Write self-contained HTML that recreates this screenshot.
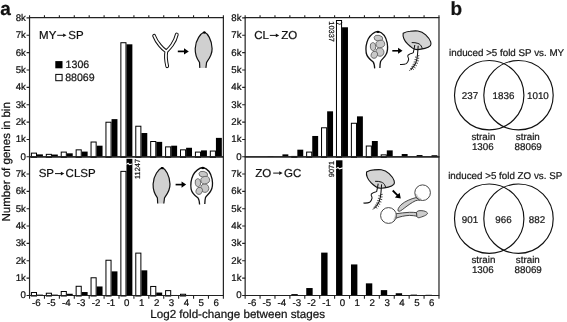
<!DOCTYPE html>
<html><head><meta charset="utf-8">
<style>
html,body{margin:0;padding:0;background:#fff;}
body{width:567px;height:322px;overflow:hidden;}
svg{display:block;filter:grayscale(1);}
text{font-family:"Liberation Sans",sans-serif;text-rendering:geometricPrecision;stroke:#111;stroke-width:0.22px;}
</style></head>
<body>
<svg width="567" height="322" viewBox="0 0 567 322">
<rect width="567" height="322" fill="#fff"/>
<rect x="37.01" y="154.37" width="5.90" height="2.43" fill="#000"/>
<rect x="31.41" y="153.13" width="5.10" height="4.17" fill="#fff" stroke="#000" stroke-width="1"/>
<rect x="51.92" y="154.54" width="5.90" height="2.26" fill="#000"/>
<rect x="46.32" y="154.35" width="5.10" height="2.95" fill="#fff" stroke="#000" stroke-width="1"/>
<rect x="66.83" y="153.33" width="5.90" height="3.47" fill="#000"/>
<rect x="61.23" y="152.09" width="5.10" height="5.21" fill="#fff" stroke="#000" stroke-width="1"/>
<rect x="81.73" y="151.59" width="5.90" height="5.21" fill="#000"/>
<rect x="76.14" y="149.84" width="5.10" height="7.46" fill="#fff" stroke="#000" stroke-width="1"/>
<rect x="96.64" y="145.69" width="5.90" height="11.11" fill="#000"/>
<rect x="91.05" y="142.02" width="5.10" height="15.28" fill="#fff" stroke="#000" stroke-width="1"/>
<rect x="111.55" y="119.13" width="5.90" height="37.67" fill="#000"/>
<rect x="105.95" y="122.23" width="5.10" height="35.07" fill="#fff" stroke="#000" stroke-width="1"/>
<rect x="126.47" y="44.31" width="5.90" height="112.49" fill="#000"/>
<rect x="120.87" y="42.72" width="5.10" height="114.58" fill="#fff" stroke="#000" stroke-width="1"/>
<rect x="141.38" y="133.02" width="5.90" height="23.78" fill="#000"/>
<rect x="135.78" y="126.23" width="5.10" height="31.07" fill="#fff" stroke="#000" stroke-width="1"/>
<rect x="156.28" y="141.87" width="5.90" height="14.93" fill="#000"/>
<rect x="150.69" y="141.50" width="5.10" height="15.80" fill="#fff" stroke="#000" stroke-width="1"/>
<rect x="171.20" y="145.69" width="5.90" height="11.11" fill="#000"/>
<rect x="165.60" y="146.88" width="5.10" height="10.42" fill="#fff" stroke="#000" stroke-width="1"/>
<rect x="186.11" y="147.77" width="5.90" height="9.03" fill="#000"/>
<rect x="180.51" y="149.84" width="5.10" height="7.46" fill="#fff" stroke="#000" stroke-width="1"/>
<rect x="201.02" y="150.38" width="5.90" height="6.42" fill="#000"/>
<rect x="195.42" y="152.09" width="5.10" height="5.21" fill="#fff" stroke="#000" stroke-width="1"/>
<rect x="215.93" y="137.88" width="5.90" height="18.92" fill="#000"/>
<rect x="210.33" y="151.05" width="5.10" height="6.25" fill="#fff" stroke="#000" stroke-width="1"/>
<path d="M29.55 17.7H223.38V156.8H29.55Z" fill="none" stroke="#222" stroke-width="1.2"/>
<rect x="267.51" y="156.28" width="5.90" height="0.52" fill="#000"/>
<rect x="282.43" y="154.37" width="5.90" height="2.43" fill="#000"/>
<rect x="297.34" y="149.68" width="5.90" height="7.12" fill="#000"/>
<rect x="291.74" y="156.43" width="5.10" height="0.87" fill="#fff" stroke="#000" stroke-width="1"/>
<rect x="312.25" y="135.97" width="5.90" height="20.83" fill="#000"/>
<rect x="306.64" y="152.09" width="5.10" height="5.21" fill="#fff" stroke="#000" stroke-width="1"/>
<rect x="327.15" y="111.32" width="5.90" height="45.48" fill="#000"/>
<rect x="321.55" y="127.79" width="5.10" height="29.51" fill="#fff" stroke="#000" stroke-width="1"/>
<rect x="342.06" y="27.29" width="5.90" height="129.51" fill="#000"/>
<rect x="336.46" y="20.50" width="5.10" height="136.80" fill="#fff" stroke="#000" stroke-width="1"/>
<rect x="356.98" y="116.35" width="5.90" height="40.45" fill="#000"/>
<rect x="351.38" y="123.27" width="5.10" height="34.03" fill="#fff" stroke="#000" stroke-width="1"/>
<rect x="371.88" y="141.00" width="5.90" height="15.80" fill="#000"/>
<rect x="366.28" y="146.02" width="5.10" height="11.28" fill="#fff" stroke="#000" stroke-width="1"/>
<rect x="386.80" y="150.38" width="5.90" height="6.42" fill="#000"/>
<rect x="381.19" y="154.87" width="5.10" height="2.43" fill="#fff" stroke="#000" stroke-width="1"/>
<rect x="401.71" y="154.02" width="5.90" height="2.78" fill="#000"/>
<rect x="416.62" y="155.06" width="5.90" height="1.74" fill="#000"/>
<rect x="431.52" y="155.24" width="5.90" height="1.56" fill="#000"/>
<path d="M245.15 17.7H438.98V156.8H245.15Z" fill="none" stroke="#222" stroke-width="1.2"/>
<rect x="37.01" y="294.63" width="5.90" height="0.87" fill="#000"/>
<rect x="31.41" y="292.53" width="5.10" height="3.47" fill="#fff" stroke="#000" stroke-width="1"/>
<rect x="51.92" y="294.63" width="5.90" height="0.87" fill="#000"/>
<rect x="46.32" y="293.22" width="5.10" height="2.78" fill="#fff" stroke="#000" stroke-width="1"/>
<rect x="66.83" y="293.76" width="5.90" height="1.74" fill="#000"/>
<rect x="61.23" y="291.49" width="5.10" height="4.51" fill="#fff" stroke="#000" stroke-width="1"/>
<rect x="81.73" y="292.03" width="5.90" height="3.47" fill="#000"/>
<rect x="76.14" y="286.28" width="5.10" height="9.72" fill="#fff" stroke="#000" stroke-width="1"/>
<rect x="96.64" y="286.47" width="5.90" height="9.03" fill="#000"/>
<rect x="91.05" y="277.77" width="5.10" height="18.23" fill="#fff" stroke="#000" stroke-width="1"/>
<rect x="111.55" y="271.37" width="5.90" height="24.13" fill="#000"/>
<rect x="105.95" y="260.24" width="5.10" height="35.76" fill="#fff" stroke="#000" stroke-width="1"/>
<rect x="126.47" y="158.80" width="5.90" height="136.70" fill="#000"/>
<rect x="120.87" y="171.36" width="5.10" height="124.64" fill="#fff" stroke="#000" stroke-width="1"/>
<rect x="141.38" y="270.33" width="5.90" height="25.17" fill="#000"/>
<rect x="135.78" y="253.12" width="5.10" height="42.88" fill="#fff" stroke="#000" stroke-width="1"/>
<rect x="156.28" y="292.55" width="5.90" height="2.95" fill="#000"/>
<rect x="150.69" y="286.45" width="5.10" height="9.55" fill="#fff" stroke="#000" stroke-width="1"/>
<rect x="171.20" y="294.98" width="5.90" height="0.52" fill="#000"/>
<rect x="165.60" y="290.62" width="5.10" height="5.38" fill="#fff" stroke="#000" stroke-width="1"/>
<rect x="186.11" y="294.98" width="5.90" height="0.52" fill="#000"/>
<rect x="180.51" y="294.26" width="5.10" height="1.74" fill="#fff" stroke="#000" stroke-width="1"/>
<rect x="201.02" y="295.15" width="5.90" height="0.35" fill="#000"/>
<rect x="215.93" y="295.15" width="5.90" height="0.35" fill="#000"/>
<path d="M29.55 156.8H223.38V295.5H29.55Z" fill="none" stroke="#222" stroke-width="1.2"/>
<rect x="246.61" y="295.15" width="6.40" height="0.35" fill="#000"/>
<rect x="261.51" y="295.15" width="6.40" height="0.35" fill="#000"/>
<rect x="276.43" y="295.15" width="6.40" height="0.35" fill="#000"/>
<rect x="291.34" y="294.11" width="6.40" height="1.39" fill="#000"/>
<rect x="306.25" y="288.04" width="6.40" height="7.46" fill="#000"/>
<rect x="321.15" y="252.62" width="6.40" height="42.88" fill="#000"/>
<rect x="336.06" y="160.30" width="6.40" height="135.20" fill="#000"/>
<rect x="350.98" y="264.43" width="6.40" height="31.07" fill="#000"/>
<rect x="365.88" y="283.35" width="6.40" height="12.15" fill="#000"/>
<rect x="380.80" y="290.12" width="6.40" height="5.38" fill="#000"/>
<rect x="395.71" y="293.24" width="6.40" height="2.26" fill="#000"/>
<rect x="410.62" y="294.63" width="6.40" height="0.87" fill="#000"/>
<rect x="425.52" y="294.81" width="6.40" height="0.69" fill="#000"/>
<path d="M245.15 156.8H438.98V295.5H245.15Z" fill="none" stroke="#222" stroke-width="1.2"/>
<path d="M44.46 17.7v-2.5 M59.37 17.7v-2.5 M74.28 17.7v-2.5 M89.19 17.7v-2.5 M104.10 17.7v-2.5 M119.01 17.7v-2.5 M133.92 17.7v-2.5 M148.83 17.7v-2.5 M163.74 17.7v-2.5 M178.65 17.7v-2.5 M193.56 17.7v-2.5 M208.47 17.7v-2.5 M223.38 17.7v-2.5 M29.55 17.7v-2.5 M29.55 156.80h-3 M29.55 139.44h-3 M29.55 122.08h-3 M29.55 104.72h-3 M29.55 87.36h-3 M29.55 70.00h-3 M29.55 52.64h-3 M29.55 35.28h-3 M29.55 17.92h-3 M260.06 17.7v-2.5 M274.97 17.7v-2.5 M289.88 17.7v-2.5 M304.79 17.7v-2.5 M319.70 17.7v-2.5 M334.61 17.7v-2.5 M349.52 17.7v-2.5 M364.43 17.7v-2.5 M379.34 17.7v-2.5 M394.25 17.7v-2.5 M409.16 17.7v-2.5 M424.07 17.7v-2.5 M438.98 17.7v-2.5 M245.15 17.7v-2.5 M245.15 156.80h-3 M245.15 139.44h-3 M245.15 122.08h-3 M245.15 104.72h-3 M245.15 87.36h-3 M245.15 70.00h-3 M245.15 52.64h-3 M245.15 35.28h-3 M245.15 17.92h-3 M44.46 295.5v3.2 M59.37 295.5v3.2 M74.28 295.5v3.2 M89.19 295.5v3.2 M104.10 295.5v3.2 M119.01 295.5v3.2 M133.92 295.5v3.2 M148.83 295.5v3.2 M163.74 295.5v3.2 M178.65 295.5v3.2 M193.56 295.5v3.2 M208.47 295.5v3.2 M223.38 295.5v3.2 M29.55 295.5v3.2 M29.55 295.50h-3 M29.55 278.14h-3 M29.55 260.78h-3 M29.55 243.42h-3 M29.55 226.06h-3 M29.55 208.70h-3 M29.55 191.34h-3 M29.55 173.98h-3 M260.06 295.5v3.2 M274.97 295.5v3.2 M289.88 295.5v3.2 M304.79 295.5v3.2 M319.70 295.5v3.2 M334.61 295.5v3.2 M349.52 295.5v3.2 M364.43 295.5v3.2 M379.34 295.5v3.2 M394.25 295.5v3.2 M409.16 295.5v3.2 M424.07 295.5v3.2 M438.98 295.5v3.2 M245.15 295.5v3.2 M245.15 295.50h-3 M245.15 278.14h-3 M245.15 260.78h-3 M245.15 243.42h-3 M245.15 226.06h-3 M245.15 208.70h-3 M245.15 191.34h-3 M245.15 173.98h-3" stroke="#222" stroke-width="1.1" fill="none"/>
<g style="font-family:'Liberation Sans',sans-serif;font-size:9.7px" fill="#111"><text x="25.9" y="159.70" text-anchor="end">0</text><text x="25.9" y="142.34" text-anchor="end">1k</text><text x="25.9" y="124.98" text-anchor="end">2k</text><text x="25.9" y="107.62" text-anchor="end">3k</text><text x="25.9" y="90.26" text-anchor="end">4k</text><text x="25.9" y="72.90" text-anchor="end">5k</text><text x="25.9" y="55.54" text-anchor="end">6k</text><text x="25.9" y="38.18" text-anchor="end">7k</text><text x="25.9" y="20.82" text-anchor="end">8k</text><text x="241.6" y="159.70" text-anchor="end">0</text><text x="241.6" y="142.34" text-anchor="end">1k</text><text x="241.6" y="124.98" text-anchor="end">2k</text><text x="241.6" y="107.62" text-anchor="end">3k</text><text x="241.6" y="90.26" text-anchor="end">4k</text><text x="241.6" y="72.90" text-anchor="end">5k</text><text x="241.6" y="55.54" text-anchor="end">6k</text><text x="241.6" y="38.18" text-anchor="end">7k</text><text x="241.6" y="20.82" text-anchor="end">8k</text><text x="25.9" y="298.40" text-anchor="end">0</text><text x="25.9" y="281.04" text-anchor="end">1k</text><text x="25.9" y="263.68" text-anchor="end">2k</text><text x="25.9" y="246.32" text-anchor="end">3k</text><text x="25.9" y="228.96" text-anchor="end">4k</text><text x="25.9" y="211.60" text-anchor="end">5k</text><text x="25.9" y="194.24" text-anchor="end">6k</text><text x="25.9" y="176.88" text-anchor="end">7k</text><text x="241.6" y="298.40" text-anchor="end">0</text><text x="241.6" y="281.04" text-anchor="end">1k</text><text x="241.6" y="263.68" text-anchor="end">2k</text><text x="241.6" y="246.32" text-anchor="end">3k</text><text x="241.6" y="228.96" text-anchor="end">4k</text><text x="241.6" y="211.60" text-anchor="end">5k</text><text x="241.6" y="194.24" text-anchor="end">6k</text><text x="241.6" y="176.88" text-anchor="end">7k</text><text x="36.41" y="305.6" text-anchor="middle">-6</text><text x="51.32" y="305.6" text-anchor="middle">-5</text><text x="66.23" y="305.6" text-anchor="middle">-4</text><text x="81.14" y="305.6" text-anchor="middle">-3</text><text x="96.05" y="305.6" text-anchor="middle">-2</text><text x="110.95" y="305.6" text-anchor="middle">-1</text><text x="126.77" y="305.6" text-anchor="middle">0</text><text x="141.68" y="305.6" text-anchor="middle">1</text><text x="156.59" y="305.6" text-anchor="middle">2</text><text x="171.50" y="305.6" text-anchor="middle">3</text><text x="186.41" y="305.6" text-anchor="middle">4</text><text x="201.32" y="305.6" text-anchor="middle">5</text><text x="216.23" y="305.6" text-anchor="middle">6</text><text x="252.01" y="305.6" text-anchor="middle">-6</text><text x="266.91" y="305.6" text-anchor="middle">-5</text><text x="281.82" y="305.6" text-anchor="middle">-4</text><text x="296.74" y="305.6" text-anchor="middle">-3</text><text x="311.64" y="305.6" text-anchor="middle">-2</text><text x="326.55" y="305.6" text-anchor="middle">-1</text><text x="342.37" y="305.6" text-anchor="middle">0</text><text x="357.28" y="305.6" text-anchor="middle">1</text><text x="372.19" y="305.6" text-anchor="middle">2</text><text x="387.10" y="305.6" text-anchor="middle">3</text><text x="402.01" y="305.6" text-anchor="middle">4</text><text x="416.92" y="305.6" text-anchor="middle">5</text><text x="431.82" y="305.6" text-anchor="middle">6</text></g>
<path d="M336.8 23.1C338 23.2 338.6 24.3 339.6 24.3C340.6 24.3 341.3 23 342.2 22.7" fill="none" stroke="#000" stroke-width="0.9"/>
<path d="M126.3 164.4L128.1 163.3L129.5 164.7L131.9 163.9" fill="none" stroke="#fff" stroke-width="1.1"/>
<path d="M336.2 168.6L338 167.5L339.5 168.9L342.8 167.9" fill="none" stroke="#fff" stroke-width="1.1"/>
<g font-size="7.4" fill="#222">
<text transform="translate(329.2 31.6) rotate(90)" text-anchor="middle">10337</text>
<text transform="translate(139.6 169.0) rotate(-90)" text-anchor="middle">11247</text>
<text transform="translate(333.9 169.0) rotate(-90)" text-anchor="middle">9071</text>
</g>
<!-- illustrations -->
<defs>
<g id="spore">
<path d="M204.3 32.0C207.5 33.3 211.8 39.5 212.1 48.5C212.3 55 209 59 206.6 62.3L205.9 67.9H199.8L199.5 62.3C197 59 195 54.5 195.2 48.5C195.5 39.5 201 33.3 204.3 32.0Z" fill="#d0d0d0"/>
<path d="M205.9 67.9L206.6 62.3C209 59 212.3 55 212.1 48.5C211.8 39.5 207.5 33.3 204.3 32.0C201 33.3 195.5 39.5 195.2 48.5C195 54.5 197 59 199.5 62.3L199.8 67.9" fill="none" stroke="#111" stroke-width="1.2"/>
<ellipse cx="204.3" cy="32.6" rx="1.6" ry="1.1" fill="#000"/>
</g>
<g id="sporangium">
<path d="M378 31.4C382.5 32.5 386 37 387.2 43C388 48 387.5 52 386 54.5C384.5 57.5 381.5 59.5 380.6 61.5C380 63.5 379.9 66 379.9 68L374.7 68.4C374.5 66 374.3 63.5 373.2 62C370.5 60 367 57 366.2 53C365.5 48 366.3 43 368.2 39C370.5 35 374 32 378 31.4Z" fill="#fff"/>
<path d="M379.9 68C379.9 66 380 63.5 380.6 61.5C381.5 59.5 384.5 57.5 386 54.5C387.5 52 388 48 387.2 43C386 37 382.5 32.5 378 31.4C374 32 370.5 35 368.2 39C366.3 43 365.5 48 366.2 53C367 57 370.5 60 373.2 62C374.3 63.5 374.5 66 374.7 68.4" fill="none" stroke="#111" stroke-width="1.3"/>
<ellipse cx="378" cy="32.0" rx="1.6" ry="1.1" fill="#000"/>
<g fill="#c8c8c8" stroke="#555" stroke-width="0.75">
<ellipse cx="378.4" cy="38.2" rx="4.4" ry="2.9" transform="rotate(12 378.4 38.2)"/>
<ellipse cx="379.9" cy="52" rx="4.0" ry="4.3" transform="rotate(-20 379.9 52)"/>
<ellipse cx="374.3" cy="54.8" rx="3.1" ry="3.6" transform="rotate(20 374.3 54.8)"/>
<ellipse cx="373" cy="46.6" rx="2.7" ry="4.0" transform="rotate(-8 373 46.6)"/>
<ellipse cx="380.3" cy="44" rx="4.4" ry="3.7" transform="rotate(-15 380.3 44)"/>
</g>
</g>
<g id="cyst">
<path d="M402.95 32.3C405.5 30.8 408 30.3 409.95 30.2C413 29.9 415.5 29.8 417.7 30.0C420.5 30.4 423.5 32 425.5 33.85C428 36.2 429.8 38.5 430.5 40.85C431 42.5 430.9 43.8 430.2 44.7C429 46 427 46.9 424.7 47.4C422.5 47.9 420 48.4 417.7 48.6C415.5 48.7 413.8 48.2 412.3 47.1C410.5 45.8 409 44.6 407.6 43.2C405.7 41.3 404.4 39.5 403.7 37.7C403 36 402.6 34 402.95 32.3Z" fill="#d4d4d4" stroke="#111" stroke-width="1.1"/>
<path d="M411.5 41.6C413.5 41.4 416 41.8 417.7 42.4C419.3 43 420.3 43.8 420.8 44.7C421.4 45.7 421.9 46.8 422.1 47.9" fill="none" stroke="#111" stroke-width="1"/>
<path d="M414.6 44.0C414.1 47 413.6 49.5 413.1 51.7C412 52.5 410.2 52.6 409.2 53.3C407.8 54 407.3 54.8 407.6 55.6C408 56.5 408.7 57.5 408.4 58.7C408 60.5 407.2 61.8 406.1 62.6C404.5 63.5 402 63.5 399.8 63.4" fill="none" stroke="#111" stroke-width="1.05"/>
<path d="M418 44.7C417.8 47 417.6 50 417.4 52.5C417.2 56 416.5 59.5 415.5 62C414.3 64.8 412.5 66.8 410.7 68.8" fill="none" stroke="#111" stroke-width="1.05"/>
<path d="M417.3 55l1.8-0.4M417.1 57.3l1.9-0.1M416.7 59.6l1.9 0.3M416 61.8l1.8 0.6M415 64l1.6 0.8M413.8 65.9l1.5 1M412.4 67.6l1.3 1.1M416.4 56.3l-1.6-0.3M416 58.7l-1.7-0.1M415.3 61l-1.8 0M414.3 63.2l-1.8 0.2M413 65.2l-1.7 0.3M411.6 67.1l-1.6 0.5M410.3 68.9l-1.3 0.7" stroke="#111" stroke-width="0.75" fill="none"/>
</g>
<g id="arrow">
<path d="M0 0H7" stroke="#000" stroke-width="1.7" fill="none"/><path d="M11 0L6.2 -3.2V3.2Z" fill="#000"/>
</g>
</defs>
<!-- TL -->
<path d="M154.1 35.8C155.5 39.5 157.5 42.5 160 45.5C162 48 164 49.8 166.4 51.4M176.8 34.5C176 38 174.5 41.5 172 45C170 47.8 168 49.8 166.4 51.4C165.6 55 165.8 60 167.2 66.2" fill="none" stroke="#111" stroke-width="3.8" stroke-linecap="round" stroke-linejoin="round"/>
<path d="M154.1 35.8C155.5 39.5 157.5 42.5 160 45.5C162 48 164 49.8 166.4 51.4M176.8 34.5C176 38 174.5 41.5 172 45C170 47.8 168 49.8 166.4 51.4C165.6 55 165.8 60 167.2 66.2" fill="none" stroke="#fff" stroke-width="1.8" stroke-linecap="round" stroke-linejoin="round"/>
<use href="#arrow" transform="translate(177.8 51.4)"/>
<use href="#spore"/>
<!-- TR -->
<use href="#sporangium"/>
<use href="#arrow" transform="translate(392.3 50.8) scale(0.93)"/>
<use href="#cyst" transform="translate(0.2 1.0)"/>
<!-- BL -->
<use href="#spore" transform="translate(-42.1 135.6)"/>
<use href="#arrow" transform="translate(175.6 184.6) scale(0.96)"/>
<use href="#sporangium" transform="translate(-175.1 136.1)"/>
<!-- BR -->
<use href="#cyst" transform="translate(-36.4 139.7)"/>
<use href="#arrow" transform="translate(392.7 190.5) rotate(45) scale(1.04)"/>
<g stroke="#333" stroke-width="0.9">
<path d="M416 197.6C411 198.8 405 201.2 401 204.8C398.6 207.2 397.4 209.8 398.2 211C399.2 212 401.5 210.4 404.2 208.2C408 205.2 411.8 202.6 415.2 200.9C416.8 200.2 418.5 200 420 200Z" fill="#cdcdcd"/>
<circle cx="422.6" cy="192.7" r="7.8" fill="#fff" stroke="none"/>
<path d="M414.9 194.6A7.8 7.8 0 0 0 421.6 200.4L421.2 198.6Q417.6 197 416.9 193.9Z" fill="#cdcdcd" stroke="none"/>
<circle cx="422.6" cy="192.7" r="7.8" fill="none"/>
<path d="M395.5 213.8C400 213.2 405 212.5 409.4 212.3C412 212.2 414.5 212.4 416.8 212.7L417 216.2C414.5 215.8 412 215.4 409.4 215.4C405 215.6 400 216.6 395.6 218.3Z" fill="#cdcdcd"/>
<path d="M416.5 212.5C417 210.6 420 210.3 423.7 210.9C426 211.4 427.6 212.6 427.5 213.4C427.3 214.4 425.5 215.4 424.6 215.8C422.5 216.6 420.5 217.4 419.2 217.7C417.8 218 416.5 216.8 416.8 215.6Z" fill="#cdcdcd"/>
<circle cx="388.5" cy="215.5" r="7.9" fill="#fff" stroke="none"/>
<path d="M396.3 214.4A7.9 7.9 0 0 1 393.8 221.4L393.4 219Q395 217.2 394.8 215Z" fill="#cdcdcd" stroke="none"/>
<circle cx="388.5" cy="215.5" r="7.9" fill="none"/>
</g>
<!-- panel letters -->
<text x="0.2" y="14.6" font-weight="bold" font-size="19" fill="#111">a</text>
<text x="450.6" y="14.8" font-weight="bold" font-size="19" fill="#111">b</text>
<!-- axis titles -->
<text transform="translate(9.6 161.9) rotate(-90)" text-anchor="middle" font-size="11.55" fill="#111">Number of genes in bin</text>
<text x="237.6" y="318.4" text-anchor="middle" font-size="11.65" fill="#111">Log2 fold-change between stages</text>
<!-- panel titles -->
<g font-size="11.5" fill="#111">
<text x="39.06" y="39.1">MY</text><text x="68.28" y="39.1">SP</text>
<text x="254.31" y="39.3">CL</text><text x="281.33" y="39.3">ZO</text>
<text x="38.68" y="177.3">SP</text><text x="65.61" y="177.3">CLSP</text>
<text x="255.33" y="176.8">ZO</text><text x="284.03" y="176.8">GC</text>
</g>
<g fill="#111" stroke="#111">
<path d="M57.2 35.3H63.4" stroke-width="1"/><path d="M66.5 35.3l-3.4-1.8v3.6z" stroke="none"/>
<path d="M269.8 35.4H276" stroke-width="1"/><path d="M279.2 35.4l-3.4-1.8v3.6z" stroke="none"/>
<path d="M55 173.6H61.2" stroke-width="1"/><path d="M64.3 173.6l-3.4-1.8v3.6z" stroke="none"/>
<path d="M273.2 173.1H279.4" stroke-width="1"/><path d="M282.6 173.1l-3.4-1.8v3.6z" stroke="none"/>
</g>
<!-- legend -->
<rect x="55.3" y="61.1" width="7.2" height="7.2" fill="#000"/>
<rect x="55.8" y="74.4" width="6.3" height="6.3" fill="#fff" stroke="#000" stroke-width="1"/>
<g font-size="10.6" fill="#222">
<text x="65.6" y="68.3">1306</text>
<text x="65.2" y="81.0">88069</text>
</g>
<!-- venn -->
<g fill="none" stroke="#111" stroke-width="1.15">
<circle cx="489.2" cy="95.2" r="34.7"/>
<circle cx="518.5" cy="95.2" r="34.7"/>
<circle cx="489.2" cy="218.7" r="34.7"/>
<circle cx="518.5" cy="218.7" r="34.7"/>
</g>
<g font-size="9.8" fill="#222" text-anchor="middle">
<text x="506.6" y="55.8">induced &gt;5 fold SP vs. MY</text>
<text x="470.0" y="99.0">237</text>
<text x="503.5" y="99.0">1836</text>
<text x="537.9" y="99.0">1010</text>
<text x="483.4" y="139.9">strain</text>
<text x="482.8" y="149.8">1306</text>
<text x="527.8" y="139.9">strain</text>
<text x="528.2" y="149.8">88069</text>
<text x="505.2" y="179.3">induced &gt;5 fold ZO vs. SP</text>
<text x="470.0" y="222.6">901</text>
<text x="503.5" y="222.6">966</text>
<text x="537.0" y="222.6">882</text>
<text x="483.4" y="263.4">strain</text>
<text x="482.8" y="273.3">1306</text>
<text x="527.8" y="263.4">strain</text>
<text x="528.2" y="273.3">88069</text>
</g>
</svg>
</body></html>
